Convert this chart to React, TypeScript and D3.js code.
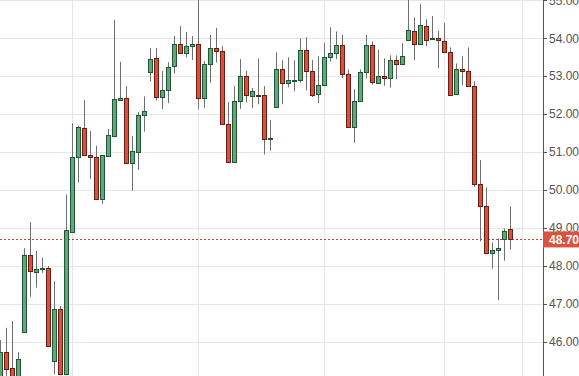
import React from "react";
import * as d3 from "d3";

const opens = [
  45.0, 45.73, 45.3, 44.95, 46.25, 48.28, 47.85, 47.93, 47.95, 45.5,
  46.87, 45.16, 48.9, 50.86, 51.64, 50.92, 50.86, 49.77, 50.91, 51.43,
  52.38, 52.42, 50.72, 51.01, 51.97, 53.1, 53.47, 52.46, 52.63, 53.26,
  53.84, 53.6, 53.79, 53.84, 52.43, 53.31, 53.74, 53.66, 51.73, 50.73,
  52.34, 53.0, 52.47, 52.5, 52.5, 51.34, 52.18, 53.18, 52.81, 52.88,
  52.89, 53.68, 53.13, 52.52, 52.76, 53.5, 53.6, 53.82, 53.05, 51.65,
  52.34, 53.1, 53.82, 52.81, 53.0, 52.95, 53.42, 53.31, 53.95, 54.18,
  53.84, 54.32, 53.98, 54.0, 53.92, 53.63, 52.52, 53.18, 53.13, 52.74,
  50.15, 49.57, 48.33, 48.41, 48.7, 48.97,
];
const highs = [
  46.05, 46.37, 46.55, 45.73, 48.47, 49.16, 48.4, 48.21, 48.0, 47.6,
  46.95, 49.88, 51.76, 51.69, 52.37, 51.56, 51.17, 50.92, 51.61, 54.48,
  53.38, 52.74, 51.43, 52.06, 52.47, 53.74, 53.74, 53.14, 53.37, 54.06,
  54.32, 54.17, 54.06, 55.1, 53.4, 54.09, 54.27, 53.8, 52.32, 52.74,
  53.45, 53.14, 52.69, 53.47, 52.74, 51.85, 53.63, 53.42, 53.5, 53.42,
  54.0, 54.03, 53.43, 53.53, 53.87, 54.29, 54.18, 54.09, 53.18, 52.66,
  53.18, 54.09, 53.92, 53.69, 53.47, 53.55, 53.55, 53.87, 55.05, 54.55,
  54.9, 54.5, 54.59, 54.19, 54.4, 53.76, 53.34, 53.53, 53.76, 52.87,
  50.79, 50.07, 48.62, 48.73, 48.99, 49.57,
];
const lows = [
  44.9, 44.95, 44.9, 44.9, 46.25, 47.19, 47.43, 47.82, 45.9, 45.15,
  45.12, 45.12, 48.9, 50.2, 50.9, 50.29, 49.74, 49.64, 50.9, 51.43,
  52.38, 50.69, 49.98, 50.53, 51.54, 52.86, 52.36, 52.13, 52.29, 53.08,
  53.6, 53.5, 53.43, 52.14, 52.17, 52.83, 53.36, 51.73, 50.73, 50.73,
  52.14, 52.31, 52.16, 52.26, 50.94, 51.04, 52.18, 52.26, 52.71, 52.6,
  52.83, 52.63, 52.45, 52.29, 52.76, 53.39, 53.45, 52.95, 51.65, 51.25,
  52.34, 52.94, 52.78, 52.81, 52.75, 52.7, 52.92, 53.31, 53.95, 53.42,
  53.84, 53.79, 53.98, 53.21, 53.63, 52.5, 52.52, 52.76, 52.74, 50.09,
  48.65, 48.33, 47.93, 47.1, 48.14, 48.43,
];
const closes = [
  45.73, 45.29, 44.95, 45.54, 48.28, 47.86, 47.91, 47.95, 45.9, 46.87,
  45.16, 48.95, 50.87, 51.66, 50.92, 50.86, 49.77, 50.92, 51.45, 52.4,
  52.42, 50.72, 51.02, 51.97, 52.08, 53.45, 52.46, 52.63, 53.24, 53.84,
  53.6, 53.79, 53.84, 52.42, 53.31, 53.74, 53.66, 51.73, 50.73, 52.34,
  53.0, 52.5, 52.6, 52.47, 51.34, 51.37, 53.18, 52.81, 52.89, 52.9,
  53.68, 53.13, 52.5, 52.76, 53.5, 53.6, 53.82, 53.05, 51.65, 52.34,
  53.1, 53.82, 52.84, 53.0, 52.95, 53.42, 53.31, 53.53, 54.21, 53.84,
  54.34, 53.95, 54.0, 53.95, 53.63, 52.5, 53.18, 53.13, 52.74, 50.15,
  49.57, 48.33, 48.41, 48.47, 48.91, 48.7,
];
const yTicks = [46, 47, 48, 49, 50, 51, 52, 53, 54, 55];
const monthStartIndices = [12, 33, 54, 74, 87];
const lastPrice = 48.7;

const W = 579;
const H = 376;
const AXIS_X = 543;

export default function App() {
  const x = d3.scaleLinear().domain([0, 85]).range([0.3, 510.3]);
  const y = d3.scaleLinear().domain([46, 54]).range([341.9, 38.3]);
  const fmt = d3.format(".2f");
  const px = (v: number) => Math.round(v) + 0.5;

  const candles = d3.range(opens.length).map((i) => ({
    o: opens[i],
    h: highs[i],
    l: lows[i],
    c: closes[i],
    i,
  }));

  const lastY = y(lastPrice);

  return (
    <svg
      width={W}
      height={H}
      style={{ position: "absolute", left: 0, top: 0, background: "#fff" }}
      fontFamily="'Liberation Sans', Arial, sans-serif"
    >
      {yTicks.map((t) => (
        <line
          key={"hg" + t}
          x1={0}
          x2={AXIS_X}
          y1={px(y(t))}
          y2={px(y(t))}
          stroke="#e6e6e6"
          strokeWidth={1}
        />
      ))}
      {monthStartIndices.map((m) => (
        <line
          key={"vg" + m}
          x1={px(x(m))}
          x2={px(x(m))}
          y1={0}
          y2={H}
          stroke="#e6e6e6"
          strokeWidth={1}
        />
      ))}
      <line
        x1={0}
        x2={AXIS_X}
        y1={px(lastY)}
        y2={px(lastY)}
        stroke="#c9412f"
        strokeWidth={1}
        strokeDasharray="2,2"
      />
      {candles.map((d) => {
        const cx = Math.floor(x(d.i));
        const up = d.c >= d.o;
        const top = Math.round(y(Math.max(d.o, d.c)));
        const bot = Math.round(y(Math.min(d.o, d.c)));
        const hgt = Math.max(1, bot - top);
        return (
          <g key={d.i}>
            <line
              x1={cx + 0.5}
              x2={cx + 0.5}
              y1={y(d.h)}
              y2={y(d.l)}
              stroke="#6f6f6f"
              strokeWidth={1}
            />
            <rect
              x={cx - 1.5}
              y={top + 0.5}
              width={4}
              height={hgt}
              fill={up ? "#65a47c" : "#d8513f"}
              stroke={up ? "#1d5a33" : "#6b1d14"}
              strokeWidth={1}
            />
          </g>
        );
      })}
      <line x1={AXIS_X + 0.5} x2={AXIS_X + 0.5} y1={0} y2={H} stroke="#555" strokeWidth={1} />
      {yTicks.map((t) => (
        <g key={"yt" + t}>
          <line
            x1={AXIS_X}
            x2={AXIS_X + 4}
            y1={px(y(t))}
            y2={px(y(t))}
            stroke="#555"
            strokeWidth={1}
          />
          <text
            x={549}
            y={y(t)}
            dy="0.35em"
            fontSize={12}
            fill="#555"
          >
            {fmt(t)}
          </text>
        </g>
      ))}
      <rect x={AXIS_X} y={lastY - 8} width={W - AXIS_X} height={16} fill="#d9533f" />
      <text
        x={549}
        y={lastY}
        dy="0.35em"
        fontSize={12}
        fontWeight="bold"
        fill="#fff"
      >
        {fmt(lastPrice)}
      </text>
    </svg>
  );
}
